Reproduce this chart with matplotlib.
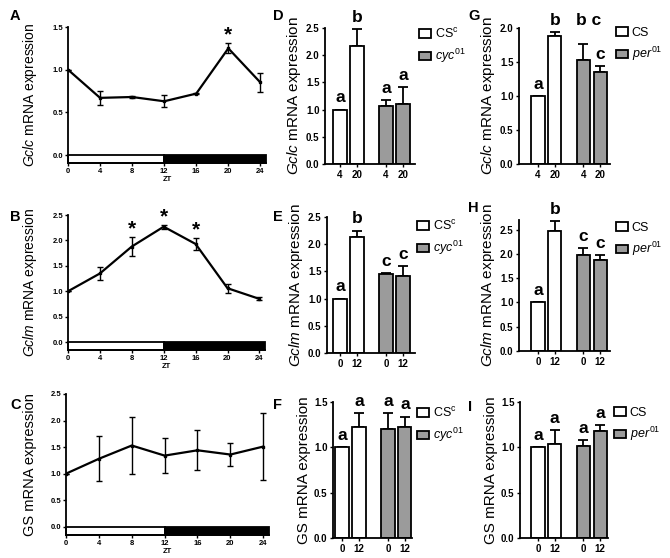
import matplotlib
matplotlib.use("Agg")
import matplotlib.pyplot as plt
import matplotlib.patches as mpatches
import numpy as np

plt.rcParams['font.family'] = 'Liberation Sans'
plt.rcParams['mathtext.fontset'] = 'custom'
plt.rcParams['mathtext.rm'] = 'Liberation Sans'
plt.rcParams['mathtext.it'] = 'Liberation Sans:italic'
plt.rcParams['mathtext.bf'] = 'Liberation Sans:bold'

# ---- time course data (A-C) ----
zt = [0, 4, 8, 12, 16, 20, 24]
gclc_zt = [1.0, 0.67, 0.68, 0.63, 0.72, 1.25, 0.85]
gclc_zt_err = [0.0, 0.08, 0.01, 0.07, 0.01, 0.06, 0.11]
gclm_zt = [1.0, 1.35, 1.88, 2.27, 1.93, 1.06, 0.85]
gclm_zt_err = [0.0, 0.12, 0.18, 0.04, 0.12, 0.09, 0.03]
gs_zt = [1.0, 1.28, 1.53, 1.34, 1.44, 1.36, 1.51]
gs_zt_err = [0.0, 0.42, 0.53, 0.33, 0.38, 0.22, 0.63]
stars_a = [20]
stars_b = [8, 12, 16]
stars_c = []

# ---- bar data (D-I): order = wt t1, wt t2, mutant t1, mutant t2 ----
gclc_times = ['4', '20']
other_times = ['0', '12']

gclc_cyc = [1.0, 2.17, 1.06, 1.11]
gclc_cyc_err = [0.0, 0.31, 0.11, 0.31]
gclc_cyc_let = ['a', 'b', 'a', 'a']
gclm_cyc = [1.0, 2.13, 1.45, 1.42]
gclm_cyc_err = [0.0, 0.12, 0.02, 0.18]
gclm_cyc_let = ['a', 'b', 'c', 'c']
gs_cyc = [1.0, 1.22, 1.20, 1.22]
gs_cyc_err = [0.0, 0.16, 0.18, 0.12]
gs_cyc_let = ['a', 'a', 'a', 'a']

gclc_per = [1.0, 1.88, 1.53, 1.35]
gclc_per_err = [0.0, 0.06, 0.23, 0.09]
gclc_per_let = ['a', 'b', 'b c', 'c']
gclm_per = [1.0, 2.48, 1.97, 1.87]
gclm_per_err = [0.0, 0.20, 0.15, 0.10]
gclm_per_let = ['a', 'b', 'c', 'c']
gs_per = [1.0, 1.04, 1.02, 1.18]
gs_per_err = [0.0, 0.15, 0.06, 0.07]
gs_per_let = ['a', 'a', 'a', 'a']

cyc_labels = [r'CS$^{\rm c}$', r'$\it{cyc}^{\rm 01}$']
per_labels = ['CS', r'$\it{per}^{\rm 01}$']

GCLC = r'$\it{Gclc}$ mRNA expression'
GCLM = r'$\it{Gclm}$ mRNA expression'
GS = 'GS mRNA expression'

W, H = 670, 558
fig = plt.figure(figsize=(W / 100, H / 100), dpi=100)


def box(x0, y0, x1, y1):
    return [x0 / W, 1 - y1 / H, (x1 - x0) / W, (y1 - y0) / H]


def bold_ticks(ax):
    for t in ax.get_xticklabels() + ax.get_yticklabels():
        t.set_fontweight('bold')


def style(ax):
    for s in ['top', 'right']:
        ax.spines[s].set_visible(False)
    for s in ['left', 'bottom']:
        ax.spines[s].set_linewidth(1.3)


def line_panel(rect, y, err, stars, ymax, step, ylab, lab_size):
    ax = fig.add_axes(box(*rect))
    style(ax)
    h = 0.062 * ymax
    xmax = 24.7
    ax.add_patch(mpatches.Rectangle((0, -h), 12, h, facecolor='white',
                                    edgecolor='black', lw=1.3, clip_on=False))
    ax.add_patch(mpatches.Rectangle((12, -h), xmax - 12, h, facecolor='black',
                                    edgecolor='black', lw=1.3, clip_on=False))
    ax.errorbar(zt, y, yerr=err, color='black', lw=1.6, elinewidth=1.0,
                capsize=2, capthick=1.0, marker='s', markersize=2)
    for s in stars:
        i = zt.index(s)
        ax.text(s, y[i] + err[i] + 0.02 * ymax, '*', ha='center', va='baseline',
                fontsize=15, fontweight='bold')
    ax.set_xlim(0, xmax)
    ax.set_ylim(-h, ymax)
    ax.set_xticks(zt)
    ax.set_yticks(np.arange(0, ymax + 0.01, step))
    ax.set_yticklabels(['%.1f' % v for v in np.arange(0, ymax + 0.01, step)])
    ax.tick_params(labelsize=5.5, width=1, length=2, pad=1.5)
    ax.set_xlabel('ZT', fontsize=5.5, fontweight='bold', labelpad=1)
    bold_ticks(ax)
    ax.set_ylabel(ylab, fontsize=lab_size, labelpad=10)
    return ax


def bar_panel(rect, xl, vals, err, lets, times, ymax, step, ylab,
              legend_xy, leg_labels):
    ax = fig.add_axes(box(*rect))
    style(ax)
    pos = [0, 1, 2.7, 3.7]
    cols = ['white', 'white', '#9b9b9b', '#9b9b9b']
    ax.bar(pos, vals, width=0.78, color=cols, edgecolor='black', lw=1.3, zorder=2)
    ax.errorbar(pos, vals, yerr=[[0] * 4, err], fmt='none', ecolor='black',
                elinewidth=1.3, capsize=3.5, capthick=1.3, zorder=1)
    for p, v, e, l in zip(pos, vals, err, lets):
        top = v + e
        if len(l) > 1:
            ax.annotate(l, (p - 0.45, top), xytext=(0, 12), textcoords='offset points',
                        ha='left', va='bottom', fontsize=12.5, fontweight='bold')
        else:
            ax.annotate(l, (p, top), xytext=(0, 3), textcoords='offset points',
                        ha='center', va='bottom', fontsize=12.5, fontweight='bold')
    ax.set_xlim(*xl)
    ax.set_ylim(0, ymax)
    ticks = np.arange(0, ymax + 0.01, step)
    ticks = ticks[ticks <= ymax + 1e-9]
    ax.set_yticks(ticks)
    ax.set_yticklabels(['%.1f' % v for v in ticks])
    ax.set_xticks(pos)
    ax.set_xticklabels(times * 2)
    ax.tick_params(labelsize=7, width=1, length=2.5, pad=1.5)
    bold_ticks(ax)
    ax.set_ylabel(ylab, fontsize=11, labelpad=2)
    handles = [mpatches.Patch(facecolor=c, edgecolor='black', lw=1.3)
               for c in ['white', '#9b9b9b']]
    ax.legend(handles, leg_labels, loc='upper left',
              bbox_to_anchor=(legend_xy[0] / W, 1 - legend_xy[1] / H),
              bbox_transform=fig.transFigure, frameon=False, fontsize=9,
              handlelength=0.95, handleheight=0.7, handletextpad=0.3,
              labelspacing=0.5, borderpad=0, borderaxespad=0)
    return ax


line_panel((68, 27, 266, 163), gclc_zt, gclc_zt_err, stars_a, 1.5, 0.5, GCLC, 10)
line_panel((68, 215, 265, 350), gclm_zt, gclm_zt_err, stars_b, 2.5, 0.5, GCLM, 10)
line_panel((66, 394, 269, 535), gs_zt, gs_zt_err, stars_c, 2.5, 0.5, GS, 10.5)

bar_panel((325, 28, 415, 164), (-0.88, 4.41), gclc_cyc, gclc_cyc_err, gclc_cyc_let,
          gclc_times, 2.5, 0.5, GCLC, (419, 27), cyc_labels)
bar_panel((327, 217, 415, 353), (-0.76, 4.41), gclm_cyc, gclm_cyc_err, gclm_cyc_let,
          other_times, 2.5, 0.5, GCLM, (417, 219), cyc_labels)
bar_panel((333, 402, 412, 538), (-0.53, 4.12), gs_cyc, gs_cyc_err, gs_cyc_let,
          other_times, 1.5, 0.5, GS, (417, 406), cyc_labels)

bar_panel((519, 28, 610, 164), (-1.13, 4.29), gclc_per, gclc_per_err, gclc_per_let,
          gclc_times, 2.0, 0.5, GCLC, (616, 27), per_labels)
bar_panel((519, 220, 610, 351), (-1.13, 4.29), gclm_per, gclm_per_err, gclm_per_let,
          other_times, 2.7, 0.5, GCLM, (616, 222), per_labels)
bar_panel((520, 402, 608, 538), (-1.07, 4.17), gs_per, gs_per_err, gs_per_let,
          other_times, 1.5, 0.5, GS, (614, 407), per_labels)

for let, x, y in [('A', 10, 16), ('B', 10, 217), ('C', 10, 405),
                  ('D', 273, 16), ('E', 273, 217), ('F', 273, 405),
                  ('G', 468, 16), ('H', 468, 208), ('I', 468, 407)]:
    fig.text(x / W, 1 - y / H, let, ha='left', va='center', fontsize=10.5,
             fontweight='bold')

fig.savefig('out.png', dpi=100)
